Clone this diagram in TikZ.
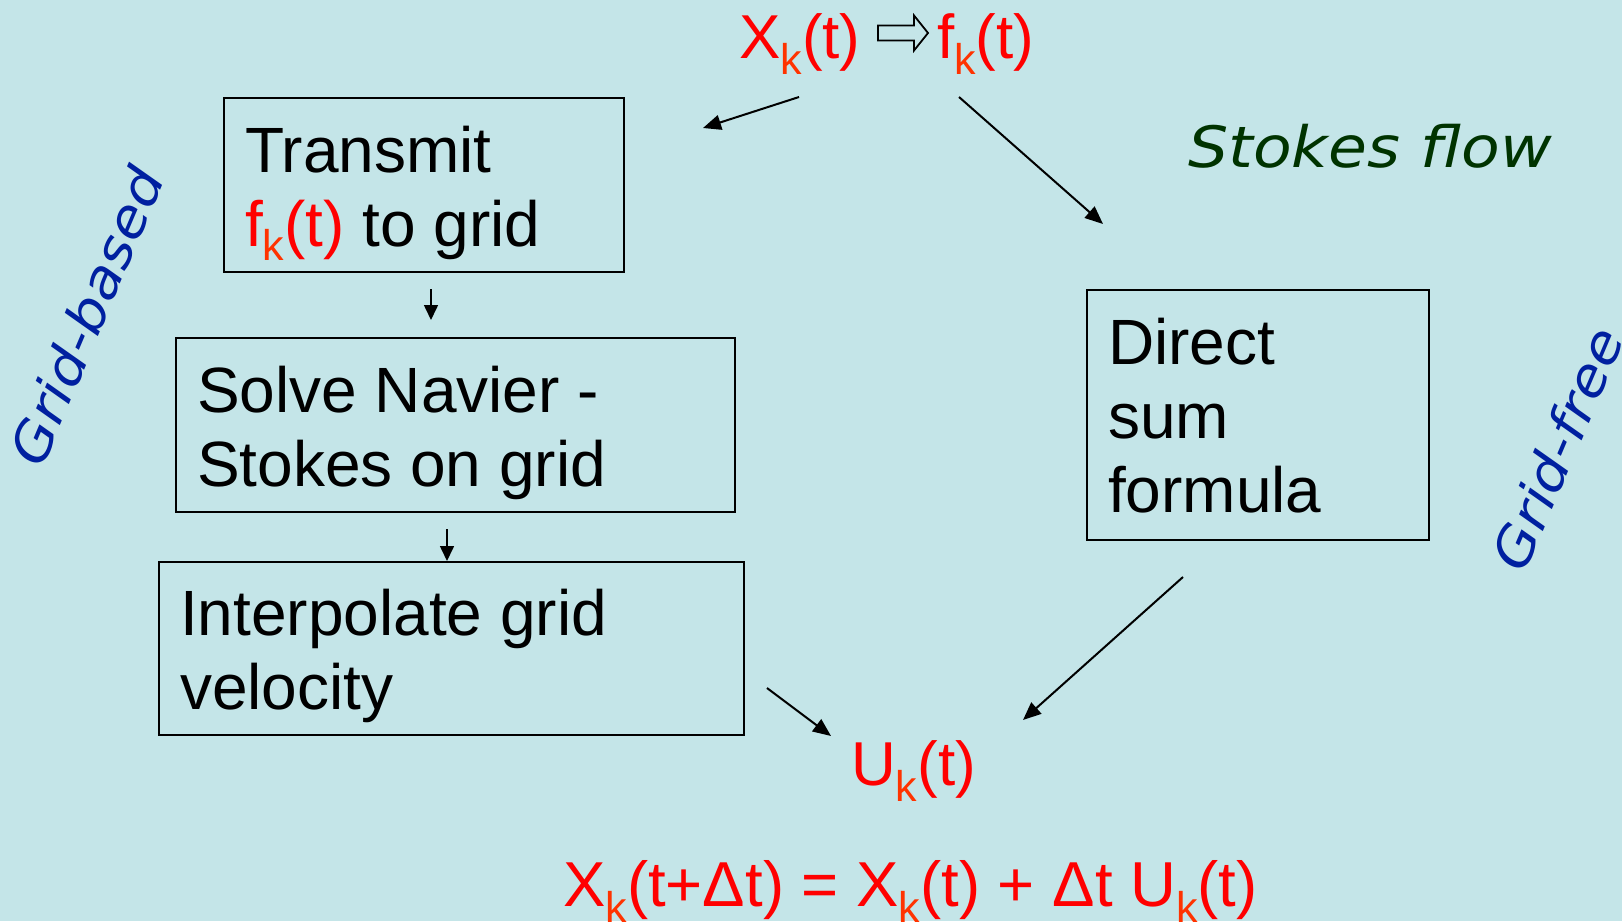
\documentclass[tikz,border=0pt]{standalone}
\usepackage{fontspec}
\setmainfont{Liberation Sans}
\newfontfamily\labfont[FakeStretch=1.11]{DejaVu Sans Oblique}
\usetikzlibrary{arrows.meta}
\definecolor{bg}{RGB}{196,229,232}
\definecolor{fred}{RGB}{255,0,0}
\definecolor{subred}{RGB}{255,51,0}
\definecolor{dgreen}{RGB}{0,51,0}
\definecolor{dblue}{RGB}{0,32,160}
\newcommand\rsub[2]{\raisebox{-#1}{\fontsize{43}{43}\selectfont\color{subred}#2}}
\begin{document}
\begin{tikzpicture}[x=1pt,y=-1pt,
  boxs/.style={draw=black, line width=2pt, inner xsep=21pt, inner ysep=0pt,
    anchor=north west, font=\fontsize{64}{74}\selectfont},
  rf/.style={text=fred, font=\fontsize{62}{62}\selectfont, inner sep=0pt, anchor=base west},
  lab/.style={font=\labfont\fontsize{52}{52}\selectfont, text=dblue, inner sep=0pt},
  arr/.style={-{Triangle[length=18pt,width=15pt]}, line width=2pt},
  sarr/.style={-{Triangle[length=15pt,width=14pt]}, line width=1.6pt}]
\fill[bg] (0,0) rectangle (1622,921);
\useasboundingbox (0,0) rectangle (1622,921);

% boxes
\node[boxs, text height=74pt, text depth=100pt] (b1) at (223,97)
  {\makebox[358pt][l]{\vtop{\hbox{Transmit}\hbox{\textcolor{fred}{f\rsub{14pt}{k}(t)} to grid}}}};
\node[boxs, text height=74pt, text depth=100pt] (b2) at (175,337)
  {\makebox[517pt][l]{\vtop{\hbox{Solve Navier -}\hbox{Stokes on grid}}}};
\node[boxs, text height=73pt, text depth=100pt] (b3) at (158,561)
  {\makebox[543pt][l]{\vtop{\hbox{Interpolate grid}\hbox{velocity}}}};
\node[boxs, text height=74pt, text depth=176pt] (b4) at (1086,289)
  {\makebox[300pt][l]{\vtop{\hbox{Direct}\hbox{sum}\hbox{formula}}}};

% red formulas
\node[rf] (xk) at (739,58) {X\rsub{16pt}{k}(t)};
\node[rf] (fk) at (937,58) {f\rsub{16pt}{k}(t)};
\node[rf] (uk) at (851,785) {U\rsub{16pt}{k}(t)};
\node[rf, font=\fontsize{63.5}{63.5}\selectfont] (upd) at (563,906)
  {X\rsub{16pt}{k}(t+Δt) = X\rsub{16pt}{k}(t) + Δt U\rsub{16pt}{k}(t)};

% hollow implication arrow
\coordinate (ha) at (878,33);
\draw[line width=1.8pt, fill=bg, line join=miter] (ha) ++(0,-7.5) -- ++(36,0) -- ++(0,-10)
  -- ++(14,17.5) -- ++(-14,17.5) -- ++(0,-10) -- ++(-36,0) -- cycle;

% labels
\node[font=\labfont\fontsize{57}{57}\selectfont, text=dgreen, inner sep=0pt, anchor=base west]
  (sf) at (1188,167) {Stokes flow};
\node[lab, rotate=67] (gb) at (86,316) {Grid-based};
\node[lab, rotate=67] (gf) at (1557,449) {Grid-free};

% connectors
\coordinate (a1s) at (799,97);  \coordinate (a1e) at (703,128);
\coordinate (a2s) at (959,97);  \coordinate (a2e) at (1103,224);
\coordinate (a3s) at (431,289); \coordinate (a3e) at (431,320);
\coordinate (a4s) at (447,529);
\coordinate (a5s) at (767,688); \coordinate (a5e) at (831,736);
\coordinate (a6s) at (1183,577); \coordinate (a6e) at (1023,720);
\draw[arr] (a1s) -- (a1e);
\draw[arr] (a2s) -- (a2e);
\draw[sarr] (a3s) -- (a3e);
\draw[sarr] (a4s) -- (a4s |- b3.north);
\draw[arr] (a5s) -- (a5e);
\draw[arr] (a6s) -- (a6e);
\end{tikzpicture}
\end{document}
